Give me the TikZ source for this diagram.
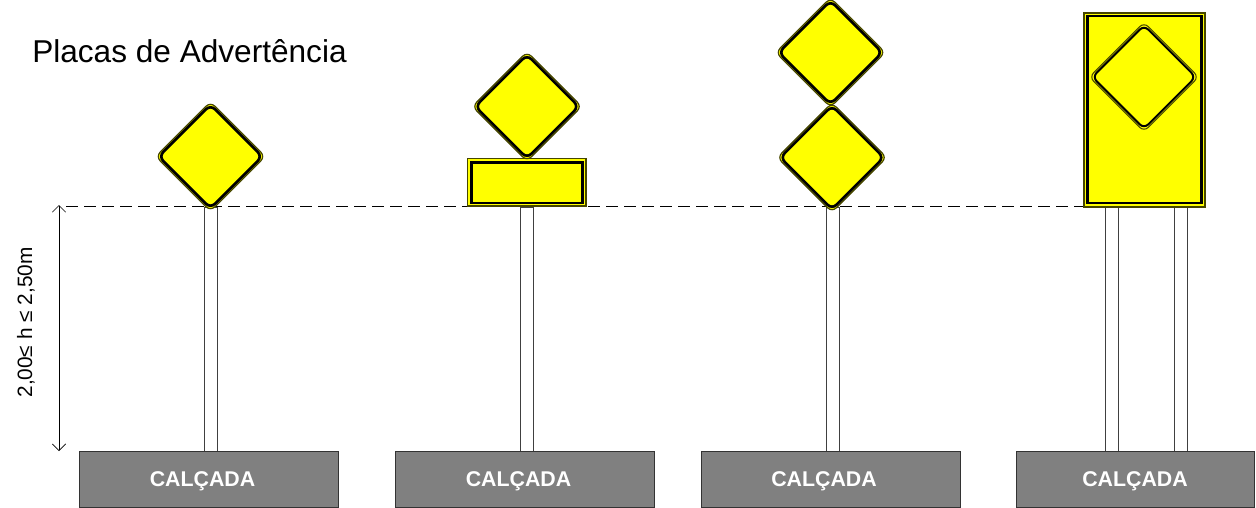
\documentclass[tikz,border=0pt]{standalone}
\usepackage{fontspec}
\setmainfont{Liberation Sans}
\usetikzlibrary{shapes.geometric,arrows.meta}
\definecolor{signyellow}{RGB}{255,255,0}
\definecolor{walkgray}{RGB}{128,128,128}
\definecolor{edgeolive}{RGB}{70,70,0}
\tikzset{
  x=0.75pt,y=-0.75pt,
  signd/.style={diamond,aspect=1,inner sep=0pt,outer sep=0pt,rounded corners=4.5pt},
  dout/.style={signd,draw=edgeolive,line width=0.9pt,fill=signyellow,minimum width=82pt,minimum height=82pt},
  din/.style={signd,draw=black,line width=2pt,minimum width=77.5pt,minimum height=77.5pt},
  recto/.style={draw=edgeolive,line width=0.8pt,fill=signyellow},
  recti/.style={draw=black,line width=2.1pt},
  postbar/.style={draw=black!75,line width=0.7pt,fill=white},
  walk/.style={draw=black!80,line width=0.4pt,fill=walkgray},
  walktext/.style={text=white,font=\fontsize{16}{19}\selectfont\bfseries}
}
\newcommand{\walkblock}[4]{%
  \draw[walk] (#1,451) rectangle (#2,507);
  \node[walktext] (#3) at (#4,481) {CALÇADA};}
\newcommand{\polebar}[1]{\draw[postbar] (#1,207) rectangle ({#1+13},451);}
\newcommand{\signdiamond}[3]{%
  \node[dout] (#3) at (#1,#2) {};
  \node[din] (#3i) at (#1,#2) {};}
\begin{document}
\begin{tikzpicture}
\useasboundingbox (0,0) rectangle (1256,507);
% dashed level line and dimension
\coordinate (lineL) at (66,206.5);
\coordinate (lineR) at (1085,206.5);
\coordinate (dimT) at (59,205);
\coordinate (dimB) at (59,451);
\draw[black,line width=0.6pt,dash pattern=on 9pt off 4.5pt] (lineL) -- (lineR);
\draw[draw=black,line width=0.45pt,{Straight Barb[length=5pt,width=10pt]}-{Straight Barb[length=5pt,width=10pt]}] (dimT) -- (dimB);
% posts
\polebar{204}\polebar{520}\polebar{826}\polebar{1105}\polebar{1174}
% sidewalks
\walkblock{79}{338}{w1}{202.5}
\walkblock{395}{654}{w2}{518.5}
\walkblock{701}{960}{w3}{824}
\walkblock{1016}{1254}{w4}{1135}
% signs
\signdiamond{210.5}{156.5}{s1}
\draw[recto] (467.5,158.5) rectangle (586,206);
\draw[recti] (471.5,162.5) rectangle (582.5,203);
\signdiamond{527}{106.5}{s2}
\signdiamond{830.5}{52.5}{s3}
\signdiamond{832}{157.5}{s4}
\draw[recto] (1084,13) rectangle (1205,207);
\draw[recti] (1087.5,16) rectangle (1201.5,203);
\node[signd,draw=edgeolive,line width=0.8pt,minimum width=82pt,minimum height=82pt] (s5) at (1144,77) {};
\node[signd,draw=black,line width=1.5pt,minimum width=77.5pt,minimum height=77.5pt] (s5i) at (1144,77) {};
% texts
\node[anchor=base west,inner sep=0pt,font=\fontsize{23.7}{28}\selectfont] (title) at (32,62.5) {Placas de Advertência};
\node[rotate=90,inner sep=0pt,font=\fontsize{15.6}{19}\selectfont] (hlabel) at (26,322.5) {2,00≤ h ≤ 2,50m};
\end{tikzpicture}
\end{document}
